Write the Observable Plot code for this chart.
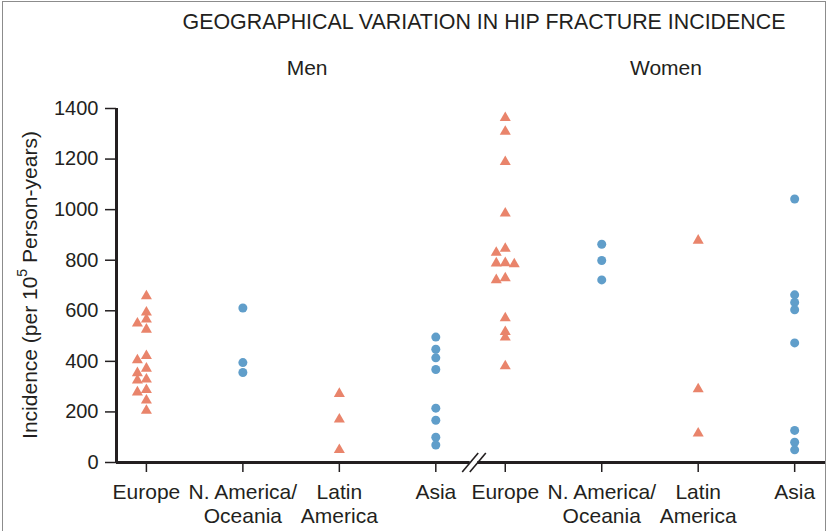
<!DOCTYPE html>
<html>
<head>
<meta charset="utf-8">
<script src="https://cdn.jsdelivr.net/npm/d3@7"></script>
<script src="https://cdn.jsdelivr.net/npm/@observablehq/plot@0.6"></script>
<style>
  body { margin: 0; background: #fff; font-family: "Liberation Sans", Arial, sans-serif; }
  #wrap { position: relative; width: 828px; height: 531px; overflow: hidden; background: #fff; }
  #title { height: 45px; line-height: 44px; padding-left: 140px; text-align: center; font-size: 21.4px; color: #231f20; }
  #border { position: absolute; left: 2px; top: 1px; width: 824px; height: 600px; border: 1.5px solid #8c8c8c; box-sizing: border-box; pointer-events: none; }
</style>
</head>
<body>
<div id="wrap">
  <div id="title">GEOGRAPHICAL VARIATION IN HIP FRACTURE INCIDENCE</div>
  <div id="chart"></div>
  <div id="border"></div>
</div>
<script>
// ---- data ----
const sexes = ["Men", "Women"];
const regions = ["Europe", "N. America/\nOceania", "Latin\nAmerica", "Asia"];
const yTicks = [0, 200, 400, 600, 800, 1000, 1200, 1400];
const yTitle = ["Incidence (per 10", "5", " Person-years)"];

const menEurope = [658, 594, 566, 550, 526, 422, 405, 372, 354, 329, 325, 287, 278, 246, 205];
const menNAmerica = [611, 395, 356];
const menLatinAmerica = [272, 171, 50];
const menAsia = [496, 448, 414, 368, 215, 167, 100, 69];
const womenEurope = [1363, 1309, 1189, 985, 846, 830, 789, 788, 785, 729, 722, 571, 517, 495, 381];
const womenNAmerica = [863, 799, 722];
const womenLatinAmerica = [878, 290, 115];
const womenAsia = [1042, 663, 633, 604, 473, 127, 80, 50];

const groups = [
  [menEurope, menNAmerica, menLatinAmerica, menAsia],
  [womenEurope, womenNAmerica, womenLatinAmerica, womenAsia]
];

// ---- layout ----
const W = 828, H = 486;
const mL = 116, mR = 2, mT = 63, mB = 69;
const womenShift = 3.72;            // compressed gap across the axis break
const xDomain = [-0.31, 7.05];
const yDomain = [0, 1400];
const pxPerX = (W - mL - mR) / (xDomain[1] - xDomain[0]);
const pxPerY = (H - mT - mB) / (yDomain[1] - yDomain[0]);
const breakX = 3 + (womenShift - 3) * 0.55;

const ORANGE = "#E9846B", BLUE = "#609ECA", INK = "#231f20";
const symbolOf = r => (r === 0 || r === 2) ? "triangle" : "circle";

// simple dodge: shift a point sideways only if it would overlap a placed one
function dodge(values, base) {
  const thr = 5.5, step = 9;
  const order = values.map((v, i) => ({v, i})).sort((a, b) => b.v - a.v);
  const placed = [], out = new Array(values.length);
  for (const {v, i} of order) {
    const py = v * pxPerY;
    for (const k of [0, -1, 1, -2, 2, -3, 3]) {
      const px = k * step;
      if (placed.every(p => Math.hypot(p.px - px, p.py - py) >= thr)) {
        placed.push({px, py});
        out[i] = base + px / pxPerX;
        break;
      }
    }
  }
  return out;
}

const positions = [];
const tickLabel = new Map();
const points = [];
sexes.forEach((sex, s) => {
  regions.forEach((region, r) => {
    const base = r + s * womenShift;
    positions.push(base);
    tickLabel.set(base, region);
    const vals = groups[s][r];
    const xs = dodge(vals, base);
    vals.forEach((v, i) => points.push({sex, region, r, value: v, x: xs[i], symbol: symbolOf(r)}));
  });
});

const sexCenters = sexes.map((sex, s) => ({sex, x: d3.mean(regions, (_, r) => r + s * womenShift)}));

const slashes = [-1, 1].map(k => ({
  x1: breakX + (k * 3.8 - 8) / pxPerX, y1: -9.5 / pxPerY,
  x2: breakX + (k * 3.8 + 8) / pxPerX, y2: 9.5 / pxPerY
}));

const chart = Plot.plot({
  width: W, height: H,
  marginLeft: mL, marginRight: mR, marginTop: mT, marginBottom: mB,
  style: {fontFamily: "'Liberation Sans', Arial, sans-serif", background: "transparent", color: INK},
  x: {domain: xDomain},
  y: {domain: yDomain},
  marks: [
    Plot.axisY({ticks: yTicks, tickSize: 11, tickPadding: 7, fontSize: 20, label: null, color: INK, strokeWidth: 1.5, tickFormat: d => String(d)}),
    Plot.axisX({ticks: positions, tickSize: 10, tickPadding: 9, fontSize: 21, lineHeight: 1.15, label: null, color: INK, strokeWidth: 1.5, tickFormat: d => tickLabel.get(d)}),
    Plot.ruleX([xDomain[0]], {y1: yDomain[0], y2: yDomain[1], stroke: INK, strokeWidth: 3}),
    Plot.ruleY([0], {x1: xDomain[0], x2: breakX - 3.8 / pxPerX, stroke: INK, strokeWidth: 3}),
    Plot.ruleY([0], {x1: breakX + 3.8 / pxPerX, x2: xDomain[1], stroke: INK, strokeWidth: 3}),
    Plot.link(slashes, {x1: "x1", y1: "y1", x2: "x2", y2: "y2", stroke: INK, strokeWidth: 1.6}),
    Plot.dot(points, {filter: d => d.symbol === "triangle", x: "x", y: "value", symbol: "triangle", r: 4.1, fill: ORANGE}),
    Plot.dot(points, {filter: d => d.symbol === "circle", x: "x", y: "value", symbol: "circle", r: 4.5, fill: BLUE}),
    Plot.text(sexCenters, {x: "x", text: "sex", frameAnchor: "top", dy: -48, dx: 16, fontSize: 21, fill: INK})
  ]
});
document.getElementById("chart").appendChild(chart);

// y-axis title with a real superscript
const svg = d3.select(chart);
const t = svg.append("text")
  .attr("transform", `translate(31, ${mT + (H - mT - mB) / 2}) rotate(-90)`)
  .attr("text-anchor", "middle")
  .attr("dominant-baseline", "middle")
  .attr("font-size", 21)
  .attr("fill", INK);
t.append("tspan").text(yTitle[0]);
t.append("tspan").attr("font-size", 14).attr("dy", -8).text(yTitle[1]);
t.append("tspan").attr("dy", 8).text(yTitle[2]);
</script>
</body>
</html>
